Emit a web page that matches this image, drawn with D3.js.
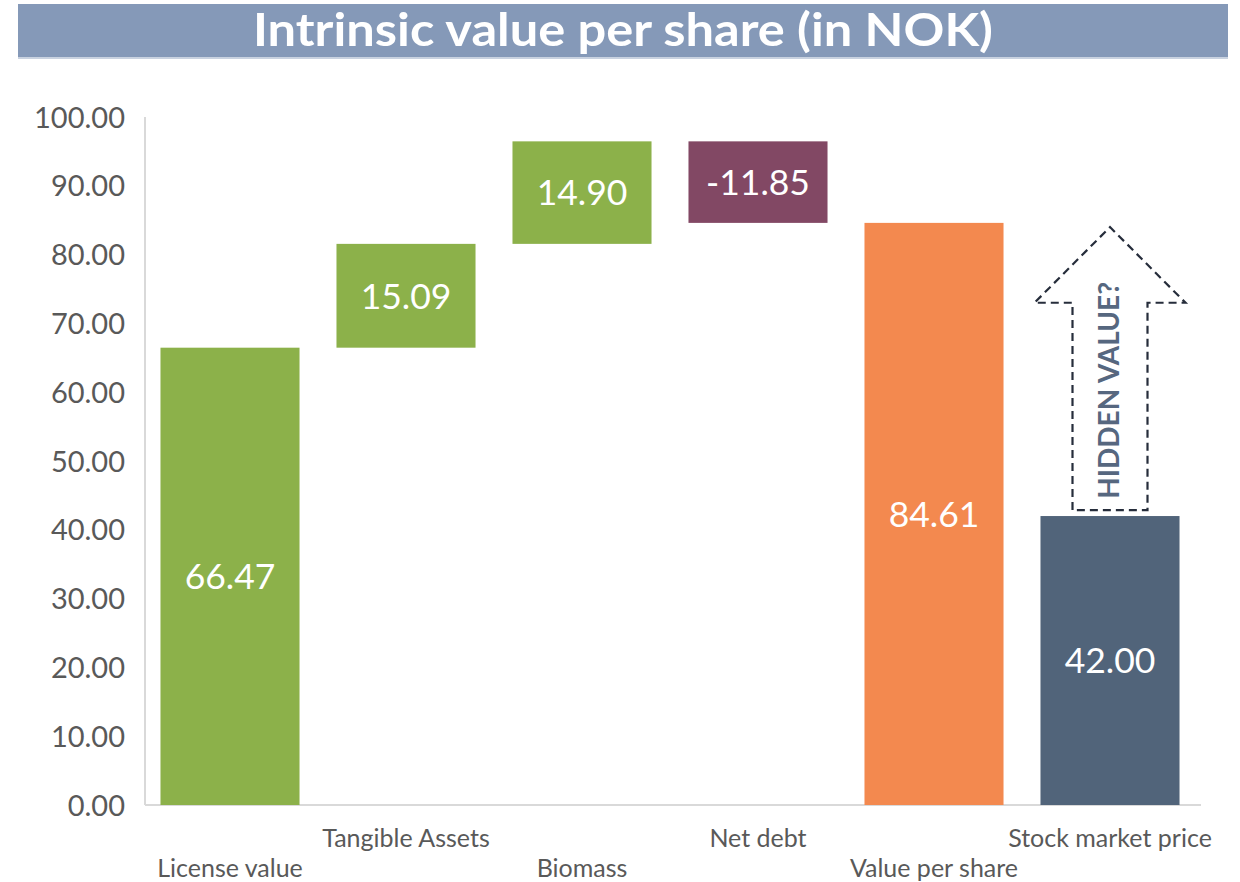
<!DOCTYPE html>
<html><head><meta charset="utf-8">
<script src="https://cdn.jsdelivr.net/npm/d3@7"></script>
<style>
body{margin:0;background:#fff;}
text{font-family:Lato,"Noto Sans",sans-serif;}
</style></head>
<body><svg id="c" width="1240" height="882"></svg>
<script>
const categories=["License value","Tangible Assets","Biomass","Net debt","Value per share","Stock market price"];
const values=[66.47,15.09,14.90,-11.85,84.61,42.00];
const kinds=["total","delta","delta","delta","total","total"];
const colors=["#8cb14a","#8cb14a","#8cb14a","#824864","#f3894f","#51647a"];
const yTicks=[0,10,20,30,40,50,60,70,80,90,100];
const arrowFrom=42.0, arrowTo=84.0, arrowHeadBase=73.0;
const title="Intrinsic value per share (in NOK)";
const arrowLabel="HIDDEN VALUE?";

const svg=d3.select("#c");
// title bar
svg.append("rect").attr("x",18).attr("y",4).attr("width",1210).attr("height",54).attr("fill","#8599b8");
svg.append("rect").attr("x",18).attr("y",57).attr("width",1210).attr("height",2).attr("fill","#c9d2e0");
svg.append("text").attr("x",623).attr("y",46).attr("text-anchor","middle").attr("fill","#fff")
  .attr("font-size",46).attr("font-weight",700)
  .attr("textLength",740).attr("lengthAdjust","spacingAndGlyphs").text(title);

const x=d3.scaleBand().domain(categories).range([142,1198]).paddingInner(0.21).paddingOuter(0.105);
const y=d3.scaleLinear().domain([0,100]).range([805,117]);

// compute waterfall
let run=0; const bars=categories.map((c,i)=>{
  let lo,hi;
  if(kinds[i]==="total"){lo=0;hi=values[i];if(i<5)run=values[i];}
  else{const s=run;run+=values[i];lo=Math.min(s,run);hi=Math.max(s,run);}
  return {c,v:values[i],lo,hi,color:colors[i]};
});

// axes
svg.append("line").attr("x1",145).attr("x2",145).attr("y1",y(100)).attr("y2",y(0)).attr("stroke","#d9d9d9").attr("stroke-width",2);
svg.append("line").attr("x1",145).attr("x2",1201).attr("y1",y(0)).attr("y2",y(0)).attr("stroke","#d9d9d9").attr("stroke-width",2);
const ya=svg.append("g").attr("transform","translate(145,0)").call(d3.axisLeft(y).tickValues(yTicks).tickSize(0).tickPadding(20).tickFormat(d3.format(".2f")));
ya.select(".domain").remove();
ya.selectAll("text").attr("font-size",29).attr("fill","#595959").attr("font-family","Lato,'Noto Sans',sans-serif").attr("dy","0.35em");

// bars
svg.selectAll("rect.bar").data(bars).enter().append("rect").attr("class","bar")
  .attr("x",d=>x(d.c)).attr("width",x.bandwidth()).attr("y",d=>y(d.hi)).attr("height",d=>y(d.lo)-y(d.hi)).attr("fill",d=>d.color);
svg.selectAll("text.val").data(bars).enter().append("text").attr("class","val")
  .attr("x",d=>x(d.c)+x.bandwidth()/2).attr("y",d=>(y(d.hi)+y(d.lo))/2).attr("dy","0.36em")
  .attr("text-anchor","middle").attr("fill","#fff").attr("font-size",35.5)
  .text(d=>d.v.toFixed(2));

// category labels
svg.selectAll("text.cat").data(categories).enter().append("text").attr("class","cat")
  .attr("x",d=>x(d)+x.bandwidth()/2).attr("y",(d,i)=>i%2===0?877:847)
  .attr("text-anchor","middle").attr("fill","#595959").attr("font-size",25).text(d=>d);

// hidden value arrow
const cx=x(categories[5])+x.bandwidth()/2;
const sw=37.5, hw=75.5;
const bottom=y(arrowFrom)-6;
const pts=[[cx-sw,bottom],[cx-sw,y(arrowHeadBase)],[cx-hw,y(arrowHeadBase)],[cx,y(arrowTo)],[cx+hw,y(arrowHeadBase)],[cx+sw,y(arrowHeadBase)],[cx+sw,bottom]];
svg.append("path").attr("d",d3.line()(pts)+"Z").attr("fill","none").attr("stroke","#262d3b").attr("stroke-width",2.2).attr("stroke-dasharray","8,5");
svg.append("text").attr("transform",`translate(${cx+9},${(y(arrowHeadBase)+bottom)/2-16}) rotate(-90)`)
  .attr("text-anchor","middle").attr("fill","#56677f").attr("font-size",28).attr("font-weight",700).text(arrowLabel);
</script></body></html>
